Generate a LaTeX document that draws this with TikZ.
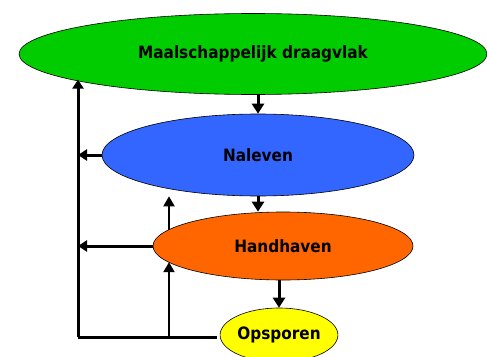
\documentclass[tikz,border=0pt]{standalone}
\usepackage{fontspec}
\setmainfont{DejaVu Sans Condensed}
\usetikzlibrary{shapes.geometric,arrows.meta}
\definecolor{layergreen}{HTML}{00CC00}
\definecolor{layerblue}{HTML}{3366FF}
\definecolor{layerorange}{HTML}{FF6600}
\definecolor{layeryellow}{HTML}{FFFF00}
\begin{document}
\begin{tikzpicture}[x=1pt,y=-1pt,
  layer/.style={ellipse, draw=black, line width=0.6pt, inner sep=0pt,
    font=\fontsize{17}{20}\selectfont\bfseries},
  flow/.style={line width=3pt, -{Triangle[length=10pt,width=12pt]}},
  feed/.style={line width=3pt},
  feedarrow/.style={line width=3pt, -{Triangle[length=9pt,width=11pt]}},
  branch/.style={line width=2pt, -{Triangle[length=10pt,width=11pt]}}]
\clip (0,0) rectangle (487,356);

% the four layers
\node[layer, fill=layergreen, minimum width=468pt, minimum height=81pt] (draag) at (253,54) {Maalschappelijk draagvlak};
\node[layer, fill=layerblue, minimum width=312pt, minimum height=82pt] (nalev) at (258,155) {Naleven};
\node[layer, fill=layerorange, minimum width=260pt, minimum height=68pt] (handh) at (283,246) {Handhaven};
\node[layer, fill=layeryellow, minimum width=110pt, minimum height=54pt] (opsp) at (279,335) {Opsporen};

% downward flow between the layers
\draw[flow] (draag.south -| nalev.north) -- (nalev.north);
\draw[flow] (nalev.south) -- (handh.north -| nalev.south);
\draw[flow] (handh.south -| opsp.north) -- (opsp.north);

% feedback loop on the left
\coordinate (fbcorner) at (78,337);
\coordinate (fbstart) at (217,337);
\coordinate (fbbranch) at (169,337);
\draw[feed] (fbstart) -- (fbcorner);
\draw[feedarrow] (fbcorner) -- (fbcorner |- draag.188.8);
\draw[feedarrow] (nalev.west) -- (nalev.west -| fbcorner);
\draw[feedarrow] (handh.west) -- (handh.west -| fbcorner);

% inner branch up through Handhaven
\draw[branch] (fbbranch) -- (fbbranch |- handh.188);
\draw[branch] (fbbranch |- handh.172) -- (fbbranch |- nalev.south);
\end{tikzpicture}
\end{document}
